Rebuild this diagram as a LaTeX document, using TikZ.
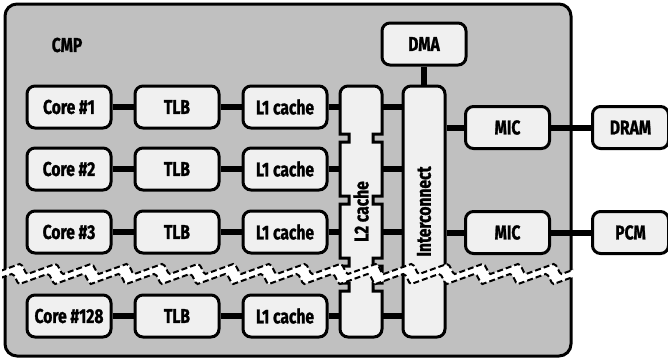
\documentclass[tikz,border=0pt]{standalone}
\usepackage{fontspec}
\setmainfont{Fira Sans}[FakeStretch=0.78, BoldFeatures={FakeBold=1.2}]
\usepackage{graphicx}
\usepackage{tikz}
\definecolor{clrChip} {RGB}{192,192,192}
\definecolor{clrBlock}{RGB}{240,240,240}
\usetikzlibrary{positioning}

\begin{document}
\begin{tikzpicture}[
  x=0.5pt, y=-0.5pt,                          % one unit = one pixel, y downwards
  node distance   = 10.5pt,
  every node/.style = {font=\bfseries\fontsize{10}{12}\selectfont},
  %--- node styles ---------------------------------------------------
  blockst/.style  = {draw=black, fill=clrBlock, line width=1.5pt,
                     rectangle, rounded corners=4pt,
                     minimum width=42pt, minimum height=21pt,
                     inner sep=0pt, align=center},
  memst/.style    = {blockst, minimum width=38pt},
  barst/.style    = {blockst, minimum width=21pt, minimum height=125.5pt},
  chipst/.style   = {draw=black, fill=clrChip, line width=1.5pt,
                     rounded corners=6pt},
  link/.style     = {line width=3pt, black},
  breakst/.style  = {draw=black, line width=1pt,
                     dash pattern=on 3pt off 1.5pt},
]
\useasboundingbox (0,0) rectangle (668,359);

% ---- Chip ---------------------------------------------------------
\draw[chipst] (5,4) rectangle (571,356);
\node (cmp) at (67,45) {CMP};

% ---- Core rows ----------------------------------------------------
\node[blockst] (core1) at (69,107) {Core \#1};
\node[blockst, right=of core1] (tlb1) {TLB};
\node[blockst, right=of tlb1]  (l1c1) {L1 cache};

\node[blockst] (core2) at (69,169) {Core \#2};
\node[blockst, right=of core2] (tlb2) {TLB};
\node[blockst, right=of tlb2]  (l1c2) {L1 cache};

\node[blockst] (core3) at (69,232) {Core \#3};
\node[blockst, right=of core3] (tlb3) {TLB};
\node[blockst, right=of tlb3]  (l1c3) {L1 cache};

\node[blockst] (core128) at (69,316) {Core \#128};
\node[blockst, right=of core128] (tlb128) {TLB};
\node[blockst, right=of tlb128]  (l1c128) {L1 cache};

% ---- L2 cache (notched bank) --------------------------------------
\draw[line width=1.5pt, fill=clrBlock]
  (340,110) [rounded corners=4pt] -- (340,86) -- (382,86) -- (382,110)
  [sharp corners]
  -- (382,134) -- (373,134) -- (373,142) -- (382,142)
  -- (382,196) -- (373,196) -- (373,204) -- (382,204)
  -- (382,258) -- (373,258) -- (373,266) -- (382,266)
  -- (382,283) -- (373,283) -- (373,291) -- (382,291)
  -- (382,320) [rounded corners=4pt] -- (382,337) -- (340,337) -- (340,320)
  [sharp corners]
  -- (340,291) -- (349,291) -- (349,283) -- (340,283)
  -- (340,266) -- (349,266) -- (349,258) -- (340,258)
  -- (340,204) -- (349,204) -- (349,196) -- (340,196)
  -- (340,142) -- (349,142) -- (349,134) -- (340,134)
  -- cycle;
\node[minimum width=21pt, minimum height=125.5pt, inner sep=0pt]
    (l2) at (361,211.5) {\rotatebox{90}{L2 cache}};

% ---- Interconnect, DMA, memory side -------------------------------
\node[barst] (ic) at (424,211.5) {\rotatebox{90}{Interconnect}};
\node[blockst] (dma) at (424,44) {DMA};

\node[blockst] (mic1) at (507.5,127.5) {MIC};
\node[memst, right=20pt of mic1] (dram) {DRAM};

\node[blockst] (mic2) at (507.5,232.5) {MIC};
\node[memst, right=20pt of mic2] (pcm) {PCM};

% ---- Links --------------------------------------------------------
\draw[link] (core1.east) -- (tlb1.west);
\draw[link] (tlb1.east)  -- (l1c1.west);
\draw[link] (l1c1.east)  -- (l1c1 -| l2.west);
\draw[link] (l1c1 -| l2.east) -- (l1c1 -| ic.west);

\draw[link] (core2.east) -- (tlb2.west);
\draw[link] (tlb2.east)  -- (l1c2.west);
\draw[link] (l1c2.east)  -- (l1c2 -| l2.west);
\draw[link] (l1c2 -| l2.east) -- (l1c2 -| ic.west);

\draw[link] (core3.east) -- (tlb3.west);
\draw[link] (tlb3.east)  -- (l1c3.west);
\draw[link] (l1c3.east)  -- (l1c3 -| l2.west);
\draw[link] (l1c3 -| l2.east) -- (l1c3 -| ic.west);

\draw[link] (core128.east) -- (tlb128.west);
\draw[link] (tlb128.east)  -- (l1c128.west);
\draw[link] (l1c128.east)  -- (l1c128 -| l2.west);
\draw[link] (l1c128 -| l2.east) -- (l1c128 -| ic.west);

\draw[link] (dma.south) -- (ic.north);
\draw[link] (ic.east |- mic1) -- (mic1.west);
\draw[link] (mic1.east) -- (dram.west);
\draw[link] (ic.east |- mic2) -- (mic2.west);
\draw[link] (mic2.east) -- (pcm.west);

% ---- Break band ---------------------------------------------------
\begin{scope}
  \clip (2,240) rectangle (573,300);
  \fill[white] (-8,274)
    \foreach \i in {1,...,17} {
      -- ++(27.6,-10) .. controls +(4,0) and +(-3,0) .. ++(8,10) }
    -- ++(-8,10)
    \foreach \i in {1,...,17} {
      .. controls +(-3,0) and +(4,0) .. ++(-8,-10) -- ++(-27.6,10) }
    -- cycle;
  \draw[breakst] (-8,274)
    \foreach \i in {1,...,17} {
      -- ++(27.6,-10) .. controls +(4,0) and +(-3,0) .. ++(8,10) };
  \draw[breakst] (-16,284)
    \foreach \i in {1,...,17} {
      -- ++(27.6,-10) .. controls +(4,0) and +(-3,0) .. ++(8,10) };
\end{scope}

\end{tikzpicture}
\end{document}
